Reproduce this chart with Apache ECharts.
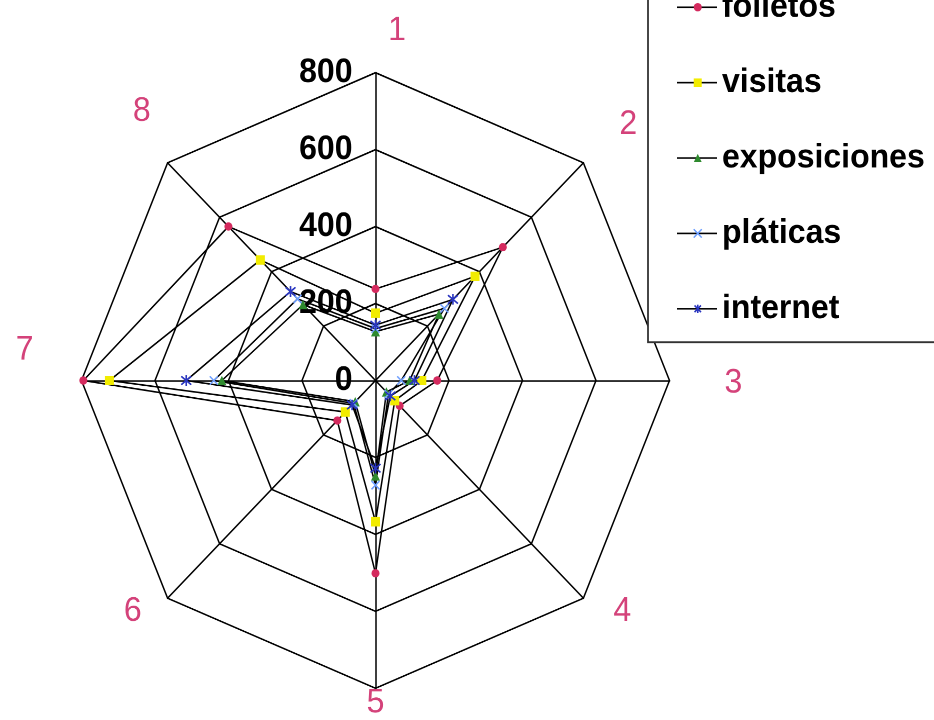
<!DOCTYPE html>
<html>
<head>
<meta charset="utf-8">
<script src="https://cdn.jsdelivr.net/npm/echarts@6/dist/echarts.min.js"></script>
<style>
  html, body { margin: 0; padding: 0; background: #fff; overflow: hidden; }
  /* the plot is slightly taller than it is wide */
  #chart { width: 934px; height: 720px; transform: scaleY(1.047); transform-origin: 0 380.5px; }
</style>
</head>
<body>
<div id="chart"></div>
<script>
// Categories (clockwise from the top) and series values
const categories = ['1', '2', '3', '4', '5', '6', '7', '8'];
const seriesNames = ['folletos', 'visitas', 'exposiciones', 'pláticas', 'internet'];
const folletos     = [238, 490, 168, 93, 501, 147, 795, 566];
const visitas      = [175, 383, 126, 74, 367, 116, 724, 443];
const exposiciones = [127, 244, 93, 42, 248, 78, 418, 279];
const platicas     = [135, 265, 70, 50, 272, 84, 440, 300];
const internet     = [144, 298, 106, 57, 228, 90, 515, 327];
const tickLabels   = ['0', '200', '400', '600', '800'];
const axisMax = 800;
const tickStep = 200;

const FONT = "'Liberation Sans', Arial, sans-serif";
const NAME_COLOR = '#d4427a';

// marker styles per series
const markerStyles = [
  { symbol: 'circle', size: 8, color: '#d42a5e', stroke: 0 },
  { symbol: 'rect', size: 9, color: '#f2ec00', stroke: 0 },
  { symbol: 'triangle', size: 9, color: '#2e8a2e', stroke: 0 },
  { symbol: 'path://M0,0L10,10M10,0L0,10', size: 8, color: '#6fa0ff', stroke: 1.5 },
  { symbol: 'path://M1,1L9,9M9,1L1,9M5,0L5,10', size: 10, color: '#2a36c0', stroke: 1.6 }
];

// ECharts lays radar indicators out counter-clockwise; reorder to go clockwise
const order = [0, 7, 6, 5, 4, 3, 2, 1];
const reorder = arr => order.map(i => arr[i]);

// offsets of the category names around the octagon
const namePadding = {
  '1': [0, 0, 8, 43],
  '2': [0, 0, 73, 36],
  '3': [5, 0, 0, 55],
  '4': [26, 0, 0, 30],
  '5': [4, 0, 0, 0],
  '6': [26, 26, 0, 0],
  '7': [0, 48, 58, 0],
  '8': [0, 17, 98, 0]
};
const rich = {};
categories.forEach(c => {
  rich['c' + c] = { padding: namePadding[c], fontSize: 32, lineHeight: 24, color: NAME_COLOR, fontFamily: FONT };
});

const indicators = reorder(categories).map((c, k) => {
  const ind = { name: c, min: 0, max: axisMax };
  if (k === 0) {
    ind.axisLabel = {
      show: true,
      margin: 23,
      fontSize: 32,
      fontWeight: 'bold',
      color: '#000',
      fontFamily: FONT,
      formatter: v => tickLabels[Math.round(v / tickStep)]
    };
  }
  return ind;
});

const values = [folletos, visitas, exposiciones, platicas, internet];

const series = seriesNames.map((name, i) => {
  const m = markerStyles[i];
  return {
    type: 'radar',
    name: name,
    symbol: m.symbol,
    symbolSize: m.size,
    itemStyle: { color: m.color, borderColor: m.color, borderWidth: m.stroke },
    lineStyle: { color: '#000', width: 1.5 },
    emphasis: { disabled: true },
    data: [{ name: name, value: reorder(values[i]) }]
  };
});

const legendText = { fontSize: 32, fontWeight: 'bold', color: '#000', lineHeight: 34, fontFamily: FONT };

const chart = echarts.init(document.getElementById('chart'), null, { renderer: 'canvas', devicePixelRatio: 2 });
chart.setOption({
  animation: false,
  backgroundColor: '#fff',
  radar: {
    center: [375.5, 380.5],
    radius: 294,
    startAngle: 90,
    shape: 'polygon',
    splitNumber: 4,
    nameGap: 0,
    indicator: indicators,
    axisName: {
      fontSize: 32,
      color: NAME_COLOR,
      fontFamily: FONT,
      formatter: name => '{c' + name + '|' + name + '}',
      rich: rich
    },
    axisLine: { show: true, lineStyle: { color: '#000', width: 1.5 } },
    splitLine: { show: true, lineStyle: { color: '#000', width: 1.5 } },
    splitArea: { show: false },
    axisTick: { show: false },
    axisLabel: { show: false }
  },
  legend: [
    {
      orient: 'vertical',
      left: 648,
      top: -33,
      padding: [40, 20, 15, 29],
      itemWidth: 40,
      itemHeight: 14,
      itemGap: 38,
      borderColor: '#333',
      borderWidth: 1.8,
      backgroundColor: '#fff',
      selectedMode: false,
      icon: 'path://M0,0H40V1.5H0Z',
      itemStyle: { color: '#000', borderWidth: 0 },
      textStyle: legendText,
      data: seriesNames
    },
    {
      orient: 'vertical',
      left: 664,
      top: -33,
      padding: [40, 20, 15, 29],
      itemWidth: 8,
      itemHeight: 8,
      itemGap: 38,
      borderWidth: 0,
      selectedMode: false,
      z: 10,
      textStyle: Object.assign({}, legendText, { color: 'rgba(0,0,0,0)' }),
      data: seriesNames.map((name, i) => ({
        name: name,
        icon: markerStyles[i].symbol,
        itemStyle: {
          color: markerStyles[i].color,
          borderColor: markerStyles[i].color,
          borderWidth: markerStyles[i].stroke
        }
      }))
    }
  ],
  series: series
});
</script>
</body>
</html>
